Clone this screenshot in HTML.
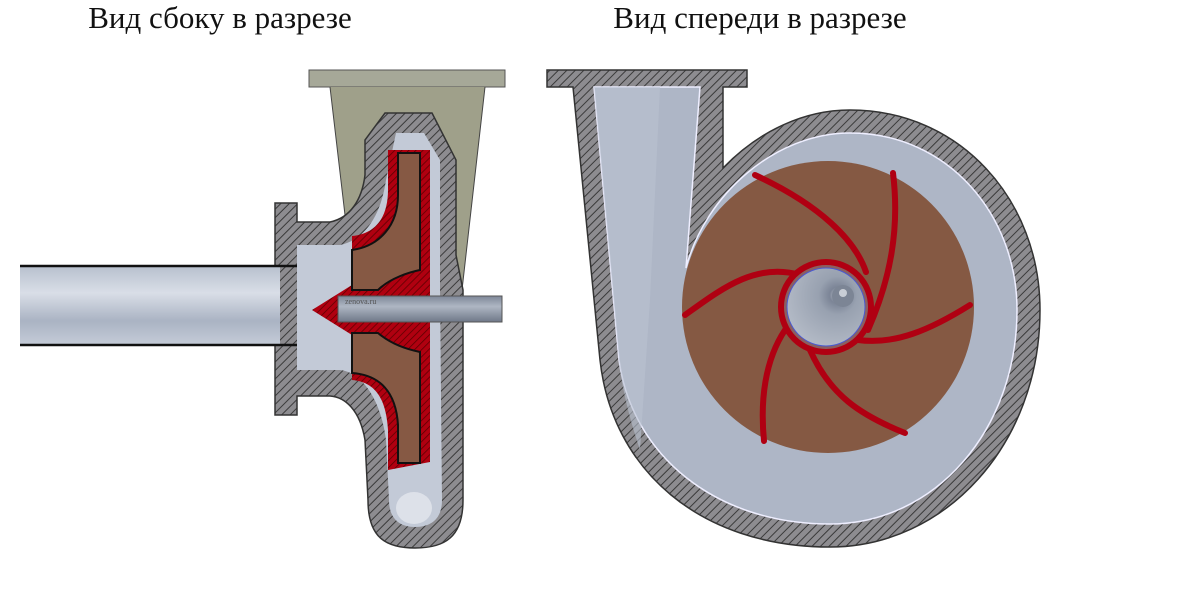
<!DOCTYPE html>
<html><head><meta charset="utf-8"><style>
html,body{margin:0;padding:0;background:#fff;}
svg{display:block}
text{font-family:"Liberation Serif",serif;}
</style></head><body>
<svg width="1200" height="612" viewBox="0 0 1200 612" xmlns="http://www.w3.org/2000/svg">
<defs>
<pattern id="h" width="6" height="6" patternUnits="userSpaceOnUse" patternTransform="rotate(45)">
<rect width="6" height="6" fill="#8d8c90"/><line x1="0" y1="0" x2="0" y2="6" stroke="#3a3a3a" stroke-width="2"/></pattern>
<pattern id="r" width="5" height="5" patternUnits="userSpaceOnUse" patternTransform="rotate(45)">
<rect width="5" height="5" fill="#b00010"/><line x1="0" y1="0" x2="0" y2="5" stroke="#5a0000" stroke-width="1.5"/></pattern>
<linearGradient id="pipe" x1="0" y1="0" x2="0" y2="1">
<stop offset="0" stop-color="#b6bfcd"/><stop offset=".35" stop-color="#d9dee7"/><stop offset=".7" stop-color="#aab3c3"/><stop offset="1" stop-color="#c5ccd8"/></linearGradient>
<linearGradient id="shaft" x1="0" y1="0" x2="0" y2="1">
<stop offset="0" stop-color="#7d8697"/><stop offset=".4" stop-color="#aeb6c3"/><stop offset="1" stop-color="#6f7888"/></linearGradient>
<radialGradient id="hub" cx=".65" cy=".35" r=".7">
<stop offset="0" stop-color="#c8ccd4"/><stop offset=".15" stop-color="#7c8597"/><stop offset=".35" stop-color="#98a1b0"/><stop offset="1" stop-color="#b3bac6"/></radialGradient>
</defs>

<text x="220" y="28" font-size="31" text-anchor="middle" fill="#111">Вид сбоку в разрезе</text>
<text x="760" y="28" font-size="31" text-anchor="middle" fill="#111">Вид спереди в разрезе</text>

<!-- LEFT VIEW -->
<rect x="309" y="70" width="196" height="17" fill="#a6a898" stroke="#555" stroke-width="1"/>
<path d="M330,87 L485,87 L462,290 L440,290 L440,160 L345,215 Z" fill="#9fa08a"/>
<path d="M330,87 L345,215 M485,87 L462,290" stroke="#444" stroke-width="1" fill="none"/>
<path d="M385,113 L432,113 L456,160 L456,255 L463,290 L463,500 C463,537 445,548 415,548 C385,548 368,537 368,500 L365,440 C360,410 345,397 330,396 L297,396 L297,415 L275,415 L275,203 L297,203 L297,222 L330,222 C350,218 362,200 365,175 L365,140 Z" fill="url(#h)" stroke="#333" stroke-width="1.5"/>
<path d="M396,133 L424,133 L440,160 L440,290 L442,500 C442,519 431,527 415,527 C400,527 389,519 389,500 L386,440 C381,400 362,372 340,370 L297,370 L297,245 L340,245 C365,240 381,215 386,180 Z" fill="#c3cad7"/>
<ellipse cx="414" cy="508" rx="18" ry="16" fill="#dde1e9"/>
<!-- impeller -->
<path d="M388,150 L430,150 L430,300 L430,462 L388,470 L388,430 C386,398 375,382 352,380 L352,236 C375,234 388,218 388,190 Z" fill="url(#r)"/>
<path d="M312,310 L352,285 L430,278 L430,340 L352,335 Z" fill="url(#r)"/>
<path d="M398,153 L420,153 L420,270 C410,272 390,278 378,290 L352,290 L352,250 C380,246 398,225 398,195 Z" fill="#865944" stroke="#111" stroke-width="2"/>
<path d="M352,333 L378,333 C392,345 410,350 420,352 L420,463 L398,463 L398,425 C396,392 380,375 352,373 Z" fill="#865944" stroke="#111" stroke-width="2"/>
<line x1="352" y1="250" x2="352" y2="290" stroke="#111" stroke-width="2"/>
<!-- pipe -->
<rect x="20" y="265" width="260" height="80" fill="url(#pipe)"/>
<line x1="20" y1="266" x2="297" y2="266" stroke="#111" stroke-width="2.5"/>
<line x1="20" y1="345" x2="297" y2="345" stroke="#111" stroke-width="2.5"/>
<rect x="338" y="296" width="164" height="26" fill="url(#shaft)" stroke="#555" stroke-width="1"/>
<text x="345" y="304" font-size="8" fill="#555" font-family="Liberation Mono">zenova.ru</text>

<!-- RIGHT VIEW -->
<path d="M547,70 H747 V87 H723 V168 C760,130 805,110 850,110 C960,110 1040,200 1040,310 C1040,445 945,547 830,547 C700,547 612,470 600,360 L573,87 H547 Z" fill="url(#h)" stroke="#333" stroke-width="1.5"/>
<path d="M594,87 H700 L686,268 C705,195 775,133 850,133 C948,133 1017,215 1017,310 C1017,430 935,524 830,524 C715,524 632,455 619,360 Z" fill="#aeb6c6" stroke="#eef" stroke-width="1.5"/>
<path d="M594,87 H660 L650,300 L640,450 C630,420 622,390 619,360 Z" fill="#b9c1d0" opacity=".6"/>
<circle cx="828" cy="307" r="146" fill="#855943"/>
<g fill="none" stroke="#b00012" stroke-width="6" stroke-linecap="round">
<path d="M755,175 C820,205 855,240 866,272"/>
<path d="M893,173 C900,230 890,280 868,330"/>
<path d="M970,305 C930,330 895,345 858,340"/>
<path d="M905,433 C860,415 830,395 810,350"/>
<path d="M764,441 C760,400 765,360 785,330"/>
<path d="M685,315 C720,290 755,262 800,275"/>
</g>
<circle cx="826" cy="307" r="45" fill="#8b5f60" stroke="#b00012" stroke-width="6"/>
<circle cx="826" cy="307" r="39" fill="url(#hub)" stroke="#4a5ad0" stroke-width="1"/>
<circle cx="843" cy="296" r="11" fill="#7c8595"/>
<circle cx="843" cy="293" r="4" fill="#c9ced6"/>
</svg>
</body></html>
